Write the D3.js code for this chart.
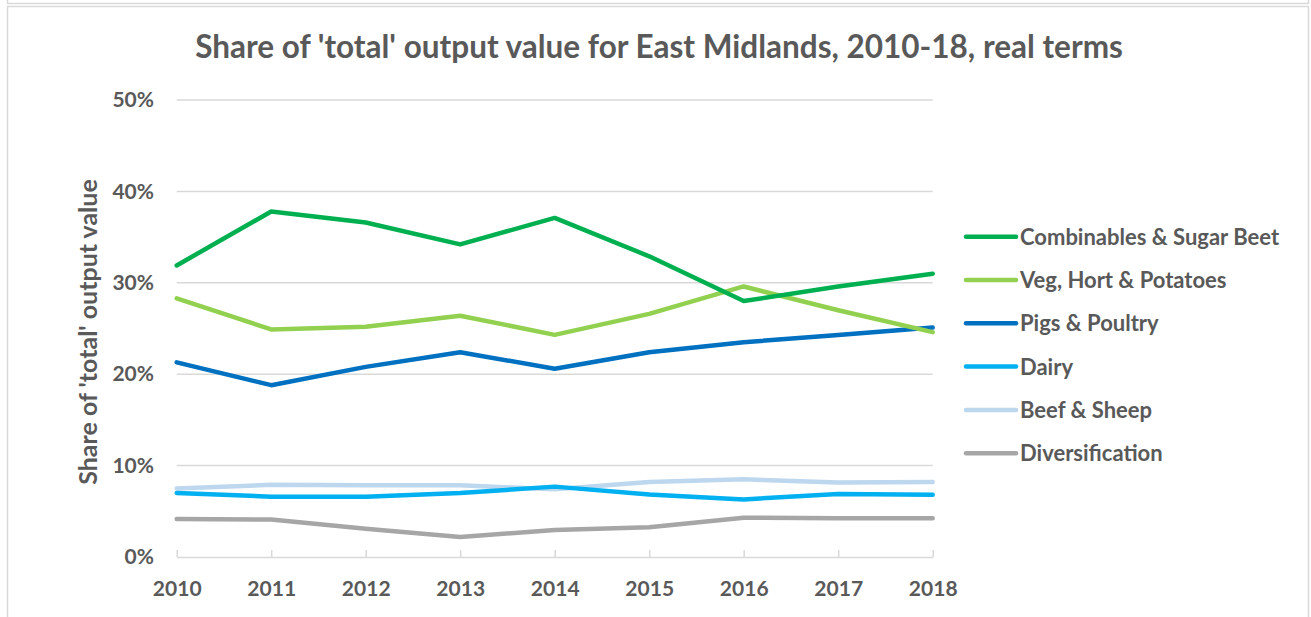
<!DOCTYPE html>
<html>
<head>
<meta charset="utf-8">
<script src="https://cdn.jsdelivr.net/npm/d3@7"></script>
<style>
  body { margin: 0; background: #fff; }
  svg { display: block; font-family: Lato, "Open Sans", sans-serif; font-weight: bold; }
</style>
</head>
<body>
<svg id="chart" width="1311" height="617"></svg>
<script>
// Data (share of total output value, %)
var years = [2010, 2011, 2012, 2013, 2014, 2015, 2016, 2017, 2018];
var seriesNames = ["Combinables & Sugar Beet", "Veg, Hort & Potatoes", "Pigs & Poultry", "Dairy", "Beef & Sheep", "Diversification"];
var combinables = [31.9, 37.8, 36.6, 34.2, 37.1, 32.9, 28.0, 29.6, 31.0];
var vegHort = [28.3, 24.9, 25.2, 26.4, 24.3, 26.6, 29.6, 27.0, 24.6];
var pigsPoultry = [21.3, 18.8, 20.8, 22.4, 20.6, 22.4, 23.5, 24.3, 25.1];
var dairy = [7.0, 6.6, 6.6, 7.0, 7.7, 6.85, 6.3, 6.9, 6.8];
var beefSheep = [7.5, 7.9, 7.85, 7.85, 7.4, 8.2, 8.5, 8.15, 8.2];
var diversification = [4.15, 4.1, 3.1, 2.2, 2.95, 3.25, 4.3, 4.25, 4.25];
var yTicks = [0, 10, 20, 30, 40, 50];
var colors = ["#00B050", "#92D050", "#0070C0", "#00B0F0", "#BDD7EE", "#A6A6A6"];

var allSeries = [combinables, vegHort, pigsPoultry, dairy, beefSheep, diversification];

var svg = d3.select("#chart");
var textColor = "#595959";

// outer frames (previous chart edge + this chart's box)
svg.append("rect").attr("x", 7.5).attr("y", -20).attr("width", 1301).attr("height", 23.5)
    .attr("fill", "none").attr("stroke", "#d9d9d9").attr("stroke-width", 1.5);
svg.append("rect").attr("x", 7.5).attr("y", 6.5).attr("width", 1301).attr("height", 640)
    .attr("fill", "#fff").attr("stroke", "#d9d9d9").attr("stroke-width", 1.5);

// scales
var x = d3.scalePoint().domain(years).range([176.7, 932.7]);
var y = d3.scaleLinear().domain([0, 50]).range([557, 100]);

// title
svg.append("text")
    .attr("x", 659).attr("y", 58)
    .attr("text-anchor", "middle")
    .attr("font-size", 31.5)
    .attr("fill", textColor)
    .text("Share of 'total' output value for East Midlands, 2010-18, real terms");

// gridlines
svg.append("g")
    .selectAll("line")
    .data(yTicks.slice(1))
    .enter().append("line")
    .attr("x1", 176.7).attr("x2", 932.7)
    .attr("y1", function(d) { return y(d); })
    .attr("y2", function(d) { return y(d); })
    .attr("stroke", "#d9d9d9").attr("stroke-width", 1.5);

// y axis labels
var yAxis = svg.append("g")
    .attr("transform", "translate(170,0)")
    .call(d3.axisLeft(y).tickValues(yTicks).tickSize(0).tickPadding(16).tickFormat(function(d) { return d + "%"; }));
yAxis.attr("font-family", null).attr("font-size", null);
yAxis.select(".domain").remove();
yAxis.selectAll("text").attr("font-size", 21).attr("fill", textColor);

// x axis (inside ticks)
var xAxis = svg.append("g")
    .attr("transform", "translate(0," + y(0) + ")")
    .call(d3.axisTop(x).tickSize(7).tickSizeOuter(0));
xAxis.attr("font-family", null).attr("font-size", null);
xAxis.select(".domain").attr("stroke", "#d9d9d9").attr("stroke-width", 1.5);
xAxis.selectAll(".tick line").attr("stroke", "#d9d9d9").attr("stroke-width", 1.5);
xAxis.selectAll(".tick text")
    .attr("y", 39).attr("dy", null)
    .attr("font-size", 21).attr("fill", textColor);

// y axis title
svg.append("text")
    .attr("transform", "translate(97,332) rotate(-90)")
    .attr("text-anchor", "middle")
    .attr("font-size", 25)
    .attr("fill", textColor)
    .text("Share of 'total' output value");

// lines
var line = d3.line()
    .x(function(d, i) { return x(years[i]); })
    .y(function(d) { return y(d); });

// draw bottom series first so the legend order is on top
var order = [5, 4, 3, 2, 1, 0];
svg.append("g")
    .selectAll("path")
    .data(order)
    .enter().append("path")
    .attr("d", function(k) { return line(allSeries[k]); })
    .attr("fill", "none")
    .attr("stroke", function(k) { return colors[k]; })
    .attr("stroke-width", 4.5)
    .attr("stroke-linejoin", "round")
    .attr("stroke-linecap", "round");

// legend
var legend = svg.append("g").attr("transform", "translate(966,236.7)");
var entries = legend.selectAll("g")
    .data(seriesNames)
    .enter().append("g")
    .attr("transform", function(d, i) { return "translate(0," + i * 43.3 + ")"; });
entries.append("line")
    .attr("x1", 0).attr("x2", 50)
    .attr("stroke", function(d, i) { return colors[i]; })
    .attr("stroke-width", 4.5)
    .attr("stroke-linecap", "round");
entries.append("text")
    .attr("x", 54).attr("dy", "0.36em")
    .attr("font-size", 22)
    .attr("fill", textColor)
    .text(function(d) { return d; });
</script>
</body>
</html>
